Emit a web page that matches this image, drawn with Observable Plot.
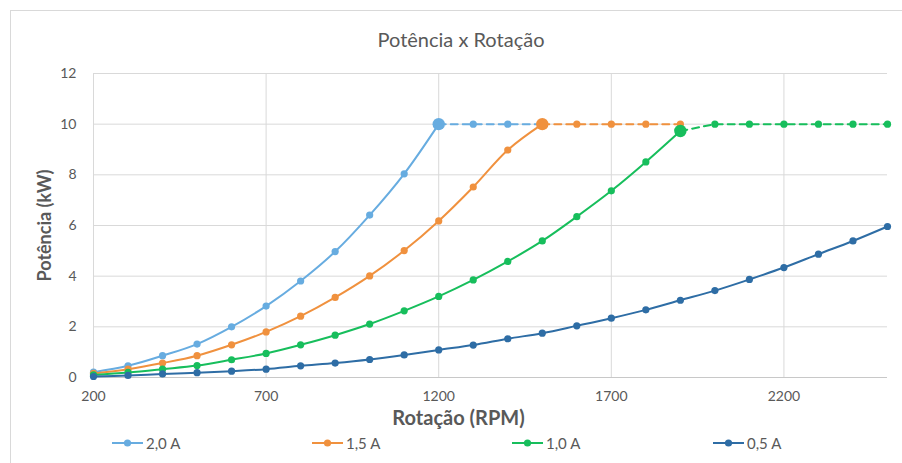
<!DOCTYPE html>
<html>
<head>
<meta charset="utf-8">
<script src="https://cdn.jsdelivr.net/npm/d3@7"></script>
<script src="https://cdn.jsdelivr.net/npm/@observablehq/plot@0.6"></script>
<style>
  html, body { margin: 0; padding: 0; background: #fff; }
  #wrap { position: relative; width: 902px; height: 463px; overflow: hidden; font-family: Lato, "Open Sans", sans-serif; }
  #frame { position: absolute; left: 10px; top: 10px; width: 900px; height: 460px; border-top: 1px solid #d9d9d9; border-left: 1px solid #d9d9d9; }
  #title { position: absolute; left: 0; width: 922px; top: 27px; text-align: center; font-size: 20px; color: #595959; }
  #chart { position: absolute; left: 0; top: 50px; }
  #legend { position: absolute; top: 434px; left: 0; width: 902px; height: 20px; }
  .item { position: absolute; top: 0; display: flex; align-items: center; font-size: 15px; color: #595959; }
  .item svg { margin-right: 3px; }
</style>
</head>
<body>
<div id="wrap">
  <div id="frame"></div>
  <div id="title">Potência x Rotação</div>
  <div id="chart"></div>
  <div id="legend"></div>
</div>
<script>
// ---- Data ----
const seriesNames = ["2,0 A", "1,5 A", "1,0 A", "0,5 A"];
const seriesColors = ["#67ACE0", "#F0913E", "#17BE5C", "#2E6DA5"];

const xTicks = [200, 700, 1200, 1700, 2200];
const yTicks = [0, 2, 4, 6, 8, 10, 12];

// 2,0 A (solid part, then dashed limit)
const rpm20 = [200, 300, 400, 500, 600, 700, 800, 900, 1000, 1100, 1200];
const pot20 = [0.21, 0.46, 0.86, 1.32, 2.0, 2.82, 3.81, 4.97, 6.41, 8.04, 10.0];
const rpm20d = [1200, 1300, 1400, 1500];
const pot20d = [10, 10, 10, 10];

// 1,5 A
const rpm15 = [200, 300, 400, 500, 600, 700, 800, 900, 1000, 1100, 1200, 1300, 1400, 1500];
const pot15 = [0.16, 0.33, 0.57, 0.86, 1.29, 1.80, 2.42, 3.16, 4.01, 5.01, 6.18, 7.52, 8.98, 10.0];
const rpm15d = [1500, 1600, 1700, 1800, 1900];
const pot15d = [10, 10, 10, 10, 10];

// 1,0 A
const rpm10 = [200, 300, 400, 500, 600, 700, 800, 900, 1000, 1100, 1200, 1300, 1400, 1500, 1600, 1700, 1800, 1900];
const pot10 = [0.10, 0.20, 0.33, 0.47, 0.70, 0.95, 1.29, 1.67, 2.11, 2.63, 3.20, 3.85, 4.58, 5.39, 6.35, 7.37, 8.51, 9.73];
const rpm10d = [1900, 2000, 2100, 2200, 2300, 2400, 2500];
const pot10d = [9.73, 10, 10, 10, 10, 10, 10];

// 0,5 A
const rpm05 = [200, 300, 400, 500, 600, 700, 800, 900, 1000, 1100, 1200, 1300, 1400, 1500, 1600, 1700, 1800, 1900, 2000, 2100, 2200, 2300, 2400, 2500];
const pot05 = [0.04, 0.08, 0.14, 0.19, 0.25, 0.33, 0.46, 0.57, 0.71, 0.89, 1.09, 1.28, 1.53, 1.75, 2.04, 2.34, 2.67, 3.05, 3.43, 3.87, 4.34, 4.87, 5.39, 5.96];

const toRows = (xs, ys) => xs.map((x, i) => ({x, y: ys[i]}));

const solid = [
  toRows(rpm20, pot20), toRows(rpm15, pot15), toRows(rpm10, pot10), toRows(rpm05, pot05)
];
const dashed = [
  toRows(rpm20d, pot20d), toRows(rpm15d, pot15d), toRows(rpm10d, pot10d), null
];

const marks = [
  Plot.gridY(yTicks, {stroke: "#d9d9d9", strokeOpacity: 1}),
  Plot.gridX(xTicks, {stroke: "#d9d9d9", strokeOpacity: 1}),
  Plot.ruleY([0], {stroke: "#c8c8c8"}),
  Plot.axisX(xTicks, {tickSize: 0, tickPadding: 14, fontSize: 14, fill: "#595959", label: null, tickFormat: d => String(d)}),
  Plot.axisY(yTicks, {tickSize: 0, tickPadding: 17, fontSize: 14, fill: "#595959", label: null, tickFormat: d => String(d)}),
  Plot.text(["Rotação (RPM)"], {frameAnchor: "bottom", dx: -32, dy: 41, fontSize: 20, fontWeight: "bold", fill: "#595959", lineAnchor: "middle"}),
  Plot.text(["Potência (kW)"], {frameAnchor: "left", dx: -48, rotate: -90, fontSize: 18, fontWeight: "bold", fill: "#595959", textAnchor: "middle"})
];

for (let i = 0; i < 4; i++) {
  const c = seriesColors[i];
  const s = solid[i];
  const d = dashed[i];
  marks.push(Plot.line(s, {x: "x", y: "y", stroke: c, strokeWidth: 2, curve: "catmull-rom"}));
  if (d) {
    marks.push(Plot.line(d, {x: "x", y: "y", stroke: c, strokeWidth: 2, strokeDasharray: "7,5"}));
    marks.push(Plot.dot(d.slice(1), {x: "x", y: "y", fill: c, r: 3.6}));
    marks.push(Plot.dot(s.slice(0, -1), {x: "x", y: "y", fill: c, r: 3.6}));
    marks.push(Plot.dot(s.slice(-1), {x: "x", y: "y", fill: c, r: 6.2}));
  } else {
    marks.push(Plot.dot(s, {x: "x", y: "y", fill: c, r: 3.6}));
  }
}

const chart = Plot.plot({
  width: 902,
  height: 380,
  marginLeft: 93,
  marginRight: 15,
  marginTop: 23,
  marginBottom: 53,
  style: {fontFamily: "Lato, 'Open Sans', sans-serif", background: "transparent", overflow: "visible"},
  x: {domain: [200, 2500]},
  y: {domain: [0, 12]},
  marks
});
document.getElementById("chart").appendChild(chart);

// Legend
const legend = document.getElementById("legend");
const legendLeft = [112, 312, 512, 713];
seriesNames.forEach((name, i) => {
  const div = document.createElement("div");
  div.className = "item";
  div.style.left = legendLeft[i] + "px";
  const c = seriesColors[i];
  div.innerHTML = `<svg width="31" height="12"><line x1="0" y1="6" x2="31" y2="6" stroke="${c}" stroke-width="2"/><circle cx="15.5" cy="6" r="3.6" fill="${c}"/></svg><span>${name}</span>`;
  legend.appendChild(div);
});
</script>
</body>
</html>
